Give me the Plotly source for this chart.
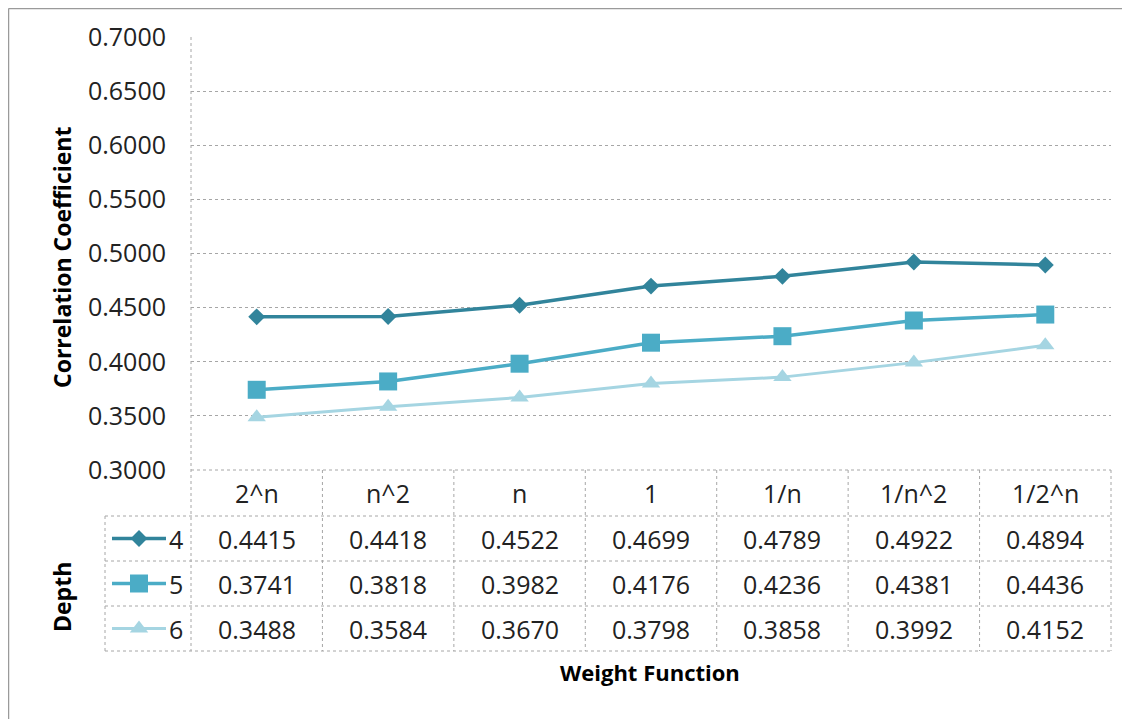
import plotly.graph_objects as go

# ---------------- data ----------------
categories = ["2^n", "n^2", "n", "1", "1/n", "1/n^2", "1/2^n"]
depth_labels = ["4", "5", "6"]
depth4 = [0.4415, 0.4418, 0.4522, 0.4699, 0.4789, 0.4922, 0.4894]
depth5 = [0.3741, 0.3818, 0.3982, 0.4176, 0.4236, 0.4381, 0.4436]
depth6 = [0.3488, 0.3584, 0.3670, 0.3798, 0.3858, 0.3992, 0.4152]
y_ticks = [0.30, 0.35, 0.40, 0.45, 0.50, 0.55, 0.60, 0.65, 0.70]

series = [depth4, depth5, depth6]
colors = ["#31849B", "#4BACC6", "#A5D5E2"]
symbols = ["diamond", "square", "triangle-up"]
msizes = [13, 18, 16]
lwidths = [3.5, 3.5, 3]

# ---------------- layout geometry (page pixels) ----------------
W, H = 1130, 719
OFF = 8                                    # page body margin
PL, PR, PT, PB = 191, 1111, 37, 470        # plot area
row_lines = [470, 516, 561, 606, 651]      # table horizontal lines
legend_left = 105
grid_col = "#A6A6A6"
FONT = "Open Sans"
TXT = "#222222"

fig = go.Figure()

for i, vals in enumerate(series):
    fig.add_trace(go.Scatter(
        x=list(range(len(categories))), y=vals, mode="lines+markers",
        name=depth_labels[i], text=categories,
        line=dict(color=colors[i], width=lwidths[i]),
        marker=dict(symbol=symbols[i], size=msizes[i], color=colors[i]),
        cliponaxis=False, xaxis="x", yaxis="y", showlegend=False))

# legend keys in the data table (pixel-space overlay axes)
for i in range(3):
    yc = (row_lines[i + 1] + row_lines[i + 2]) / 2
    fig.add_trace(go.Scatter(
        x=[112, 139, 166], y=[yc, yc, yc], mode="lines",
        line=dict(color=colors[i], width=lwidths[i]),
        xaxis="x2", yaxis="y2", showlegend=False, hoverinfo="skip"))
    fig.add_trace(go.Scatter(
        x=[139], y=[yc], mode="markers",
        marker=dict(symbol=symbols[i], size=msizes[i], color=colors[i]),
        xaxis="x2", yaxis="y2", showlegend=False, hoverinfo="skip",
        cliponaxis=False))

shapes = []
def line(x0, y0, x1, y1, color=grid_col, width=1, dash="dot"):
    shapes.append(dict(type="line", xref="x2", yref="y2", x0=x0, y0=y0,
                       x1=x1, y1=y1, line=dict(color=color, width=width, dash=dash),
                       layer="below"))

# vertical axis line of plot (continues through table)
line(PL, PT, PL, row_lines[-1])
# table horizontal lines
line(PL, row_lines[0], PR, row_lines[0])
for yl in row_lines[1:]:
    line(legend_left, yl, PR, yl)
# legend column left border
line(legend_left, row_lines[1], legend_left, row_lines[-1])
# column separators
colw = (PR - PL) / len(categories)
for k in range(1, len(categories) + 1):
    xk = PL + k * colw
    line(xk, row_lines[0], xk, row_lines[-1])

# outer chart frame (top and left)
line(OFF + 0.5, OFF + 0.5, W + OFF, OFF + 0.5, color="#9A9A9A", width=1.5, dash="solid")
line(OFF + 0.5, OFF + 0.5, OFF + 0.5, H + OFF, color="#9A9A9A", width=1.5, dash="solid")

annotations = []
NUMSIZE = 25
# header row
hy = (row_lines[0] + row_lines[1]) / 2
for j, c in enumerate(categories):
    annotations.append(dict(x=j, y=hy, xref="x", yref="y2", text=c, showarrow=False,
                            font=dict(family=FONT, size=NUMSIZE, color=TXT)))
# value rows
for i, vals in enumerate(series):
    yc = (row_lines[i + 1] + row_lines[i + 2]) / 2
    for j, v in enumerate(vals):
        annotations.append(dict(x=j, y=yc, xref="x", yref="y2", text=f"{v:.4f}",
                                showarrow=False,
                                font=dict(family=FONT, size=NUMSIZE, color=TXT)))
    annotations.append(dict(x=176, y=yc, xref="x2", yref="y2", text=depth_labels[i],
                            showarrow=False,
                            font=dict(family=FONT, size=NUMSIZE, color=TXT)))

# titles
TS = 23
annotations.append(dict(x=62, y=258, xref="x2", yref="y2", text="<b>Correlation Coefficient</b>",
                        textangle=-90, showarrow=False,
                        font=dict(family=FONT, size=TS, color="#000000")))
annotations.append(dict(x=62, y=597, xref="x2", yref="y2", text="<b>Depth</b>",
                        textangle=-90, showarrow=False,
                        font=dict(family=FONT, size=TS, color="#000000")))
annotations.append(dict(x=650, y=672, xref="x2", yref="y2", text="<b>Weight Function</b>",
                        showarrow=False,
                        font=dict(family=FONT, size=TS - 1, color="#000000")))

fig.update_layout(
    width=W, height=H,
    margin=dict(l=0, r=0, t=0, b=0, pad=0, autoexpand=False),
    paper_bgcolor="white", plot_bgcolor="rgba(0,0,0,0)",
    xaxis=dict(domain=[(PL - OFF) / W, (PR - OFF) / W], range=[-0.5, len(categories) - 0.5],
               showticklabels=False, showgrid=False, automargin=False,
               zeroline=False, showline=False, anchor="y"),
    yaxis=dict(domain=[(H - (PB - OFF)) / H, (H - (PT - OFF)) / H], range=[0.3, 0.7],
               tickvals=y_ticks, tickformat=".4f", showgrid=True,
               gridcolor=grid_col, griddash="dot", gridwidth=1, automargin=False,
               zeroline=False, showline=False, ticks="", ticklabelstandoff=24,
               tickfont=dict(family=FONT, size=NUMSIZE, color=TXT), anchor="x"),
    xaxis2=dict(domain=[0, 1], range=[OFF, W + OFF], visible=False, anchor="y2",
                automargin=False),
    yaxis2=dict(domain=[0, 1], range=[H + OFF, OFF], visible=False, anchor="x2",
                automargin=False),
    shapes=shapes, annotations=annotations,
)

fig.write_html("out.html")
